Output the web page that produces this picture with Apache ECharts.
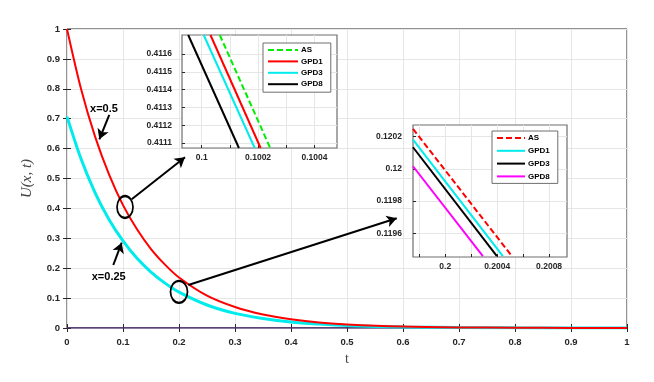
<!DOCTYPE html>
<html>
<head>
<meta charset="utf-8">
<script src="https://cdn.jsdelivr.net/npm/echarts@6/dist/echarts.min.js"></script>
<style>
  html, body { margin: 0; padding: 0; background: #fff; }
  #chart { width: 654px; height: 382px; }
</style>
</head>
<body>
<div id="chart"></div>
<script>
// main curves
const tValues = [0, 0.025, 0.05, 0.075, 0.1, 0.125, 0.15, 0.175, 0.2, 0.25, 0.3, 0.35, 0.4, 0.45, 0.5, 0.6, 0.7, 0.8, 0.9, 1.0];
const uHalf = [1.0, 0.80, 0.641, 0.514, 0.411, 0.330, 0.264, 0.212, 0.169, 0.108, 0.070, 0.045, 0.029, 0.018, 0.012, 0.005, 0.002, 0.001, 0.0004, 0.0002];
const uQuarter = [0.707, 0.566, 0.453, 0.363, 0.291, 0.233, 0.187, 0.150, 0.120, 0.077, 0.049, 0.032, 0.020, 0.013, 0.008, 0.0035, 0.0014, 0.0006, 0.0003, 0.0001];
const uZero = tValues.map(() => 0);

// zoom near t=0.1 (x=0.5)
const zoom1AS = [[0.100064, 0.411707], [0.100243, 0.411072]];
const zoom1GPD1 = [[0.100031, 0.411707], [0.100209, 0.411072]];
const zoom1GPD3 = [[0.100007, 0.411707], [0.100188, 0.411072]];
const zoom1GPD8 = [[0.099952, 0.411707], [0.100132, 0.411072]];

// zoom near t=0.2 (x=0.25)
const zoom2AS = [[0.199752, 0.120248], [0.200513, 0.119459]];
const zoom2GPD1 = [[0.199752, 0.120181], [0.200444, 0.119459]];
const zoom2GPD3 = [[0.199752, 0.120134], [0.200398, 0.119459]];
const zoom2GPD8 = [[0.199752, 0.120016], [0.200290, 0.119459]];

const zoom1XTicks = [0.1, 0.1001, 0.1002, 0.1003, 0.1004];
const zoom1XLabels = [0.1, 0.1002, 0.1004];
const zoom1YTicks = [0.4111, 0.4112, 0.4113, 0.4114, 0.4115, 0.4116];
const zoom2XTicks = [0.1998, 0.2, 0.2002, 0.2004, 0.2006, 0.2008];
const zoom2XLabels = [0.2, 0.2004, 0.2008];
const zoom2YTicks = [0.1196, 0.1198, 0.12, 0.1202];

const RED = '#ff0000', CYAN = '#00ecec', BLACK = '#000000', GREEN = '#00ee00', MAGENTA = '#ff00ff';
const AXIS = '#262626', GRID = '#e6e6e6';
const FONT = '"Liberation Sans", Arial, sans-serif';

const chart = echarts.init(document.getElementById('chart'));

const fmt = (v) => String(+(+v).toFixed(5));
const tickLabel = (size) => ({ fontFamily: FONT, fontWeight: 'bold', fontSize: size, color: AXIS });

function insetX(grid, min, max, ticks, labels) {
  return {
    type: 'value', gridIndex: grid, min, max, z: 6,
    axisLine: { show: false },
    axisTick: { show: true, inside: true, length: 3, customValues: ticks, lineStyle: { color: AXIS } },
    axisLabel: Object.assign({ customValues: labels, margin: 5, formatter: fmt }, tickLabel(8.5)),
    splitLine: { show: true, lineStyle: { color: GRID, width: 1 } },
  };
}
function insetY(grid, min, max, ticks, margin) {
  return {
    type: 'value', gridIndex: grid, min, max, z: 6,
    axisLine: { show: false },
    axisTick: { show: true, inside: true, length: 3, customValues: ticks, lineStyle: { color: AXIS } },
    axisLabel: Object.assign({ customValues: ticks, margin, formatter: fmt }, tickLabel(8.5)),
    splitLine: { show: true, lineStyle: { color: GRID, width: 1 } },
  };
}
function pairLine(name, data, xi, color, dashed) {
  return {
    name, type: 'line', data, xAxisIndex: xi, yAxisIndex: xi, z: 7,
    symbol: 'none', silent: true, animation: false, clip: true,
    lineStyle: { color, width: 2, type: dashed ? [6, 3] : 'solid' },
    itemStyle: { color },
  };
}

const ellipse = 'path://M0,-1A1,1 0 1,1 0,1A1,1 0 1,1 0,-1Z';
const arrowStyle = { color: '#000', width: 2, type: 'solid' };
const legendBase = {
  orient: 'vertical', z: 8, itemHeight: 8, selectedMode: false,
  backgroundColor: '#fff', borderColor: '#6e6e6e', borderWidth: 1,
  itemStyle: { opacity: 0 },
  textStyle: { fontFamily: FONT, fontWeight: 'bold', fontSize: 8, color: '#000', padding: [0, 0, 0, -2] },
};

chart.setOption({
  animation: false,
  backgroundColor: '#fff',
  grid: [
    { left: 67, top: 29, width: 560, height: 299, show: true, borderColor: AXIS, borderWidth: 1, backgroundColor: 'transparent', z: 0 },
    { left: 182, top: 35, width: 155, height: 113, show: true, borderColor: '#6e6e6e', borderWidth: 1.2, backgroundColor: '#fff', z: 5 },
    { left: 413, top: 125, width: 154, height: 132, show: true, borderColor: '#6e6e6e', borderWidth: 1.2, backgroundColor: '#fff', z: 5 },
  ],
  xAxis: [
    {
      type: 'value', gridIndex: 0, min: 0, max: 1, interval: 0.1,
      name: 't', nameLocation: 'middle', nameGap: 24,
      nameTextStyle: { fontFamily: '"Liberation Serif", serif', fontSize: 14, color: '#444' },
      axisLine: { show: false },
      axisTick: { inside: true, length: 4, lineStyle: { color: AXIS } },
      axisLabel: Object.assign({ margin: 9, formatter: fmt }, tickLabel(9.5)),
      splitLine: { show: true, lineStyle: { color: GRID } },
    },
    insetX(1, 0.09993, 0.10048, zoom1XTicks, zoom1XLabels),
    insetX(2, 0.199752, 0.200938, zoom2XTicks, zoom2XLabels),
    {
      type: 'value', gridIndex: 0, min: 0, max: 1, interval: 0.1, position: 'top',
      axisLine: { show: false }, axisLabel: { show: false }, splitLine: { show: false },
      axisTick: { inside: true, length: 4, lineStyle: { color: AXIS } },
    },
  ],
  yAxis: [
    {
      type: 'value', gridIndex: 0, min: 0, max: 1, interval: 0.1,
      name: 'U(x, t)', nameLocation: 'middle', nameGap: 32,
      nameTextStyle: { fontFamily: '"Liberation Serif", serif', fontStyle: 'italic', fontSize: 15, color: '#444' },
      axisLine: { show: false },
      axisTick: { inside: true, length: 4, lineStyle: { color: AXIS } },
      axisLabel: Object.assign({ margin: 7, formatter: fmt }, tickLabel(9.5)),
      splitLine: { show: true, lineStyle: { color: GRID } },
    },
    insetY(1, 0.411072, 0.411707, zoom1YTicks, 10),
    insetY(2, 0.119453, 0.120272, zoom2YTicks, 11),
    {
      type: 'value', gridIndex: 0, min: 0, max: 1, interval: 0.1, position: 'right',
      axisLine: { show: false }, axisLabel: { show: false }, splitLine: { show: false },
      axisTick: { inside: true, length: 4, lineStyle: { color: AXIS } },
    },
  ],
  legend: [
    Object.assign({}, legendBase, {
      left: 263, top: 43,
      data: ['AS', 'GPD1', 'GPD3', 'GPD8'],
      itemWidth: 30, itemGap: 3.4, padding: [3, 8, 4, 4],
    }),
    Object.assign({}, legendBase, {
      left: 492, top: 131,
      data: ['AS|2', 'GPD1|2', 'GPD3|2', 'GPD8|2'],
      formatter: (n) => n.split('|')[0],
      itemWidth: 28, itemGap: 4.8, padding: [3, 8, 3, 4],
    }),
  ],
  series: [
    {
      name: 'zero', type: 'line', xAxisIndex: 0, yAxisIndex: 0, z: 2,
      data: tValues.map((t, i) => [t, uZero[i]]), symbol: 'none', silent: true,
      lineStyle: { color: '#4b2a6e', width: 1.5 },
    },
    {
      name: 'x=0.25', type: 'line', xAxisIndex: 0, yAxisIndex: 0, z: 2,
      data: tValues.map((t, i) => [t, uQuarter[i]]), symbol: 'none', smooth: 0.3, silent: true,
      lineStyle: { color: CYAN, width: 3 },
    },
    {
      name: 'x=0.5', type: 'line', xAxisIndex: 0, yAxisIndex: 0, z: 3,
      data: tValues.map((t, i) => [t, uHalf[i]]), symbol: 'none', smooth: 0.3, silent: true,
      lineStyle: { color: RED, width: 2 },
      markPoint: {
        silent: true, animation: false,
        data: [
          { coord: [0.1036, 0.4047], symbol: ellipse, symbolSize: [16, 22], itemStyle: { color: 'transparent', borderColor: '#000', borderWidth: 2 }, label: { show: false } },
          { coord: [0.2, 0.121], symbol: ellipse, symbolSize: [17, 22], itemStyle: { color: 'transparent', borderColor: '#000', borderWidth: 2 }, label: { show: false } },
          { coord: [0.066, 0.7324], symbol: 'rect', symbolSize: 1, itemStyle: { color: 'transparent' },
            label: { show: true, position: 'inside', formatter: 'x=0.5', fontFamily: FONT, fontWeight: 'bold', fontSize: 11, color: '#000' } },
          { coord: [0.0745, 0.1716], symbol: 'rect', symbolSize: 1, itemStyle: { color: 'transparent' },
            label: { show: true, position: 'inside', formatter: 'x=0.25', fontFamily: FONT, fontWeight: 'bold', fontSize: 11, color: '#000' } },
        ],
      },
      markLine: {
        silent: true, animation: false,
        symbol: ['none', 'arrow'], symbolSize: [9, 10],
        label: { show: false }, lineStyle: arrowStyle,
        data: [
          [{ coord: [0.1155, 0.4304] }, { coord: [0.2107, 0.5709] }],
          [{ coord: [0.2166, 0.1438] }, { coord: [0.5888, 0.3669] }],
          [{ coord: [0.0755, 0.7124] }, { coord: [0.0577, 0.6311] }],
          [{ coord: [0.0827, 0.2107] }, { coord: [0.0977, 0.2853] }],
        ],
      },
    },
    pairLine('AS', zoom1AS, 1, GREEN, true),
    pairLine('GPD1', zoom1GPD1, 1, RED),
    pairLine('GPD3', zoom1GPD3, 1, CYAN),
    pairLine('GPD8', zoom1GPD8, 1, BLACK),
    pairLine('AS|2', zoom2AS, 2, RED, true),
    pairLine('GPD1|2', zoom2GPD1, 2, CYAN),
    pairLine('GPD3|2', zoom2GPD3, 2, BLACK),
    pairLine('GPD8|2', zoom2GPD8, 2, MAGENTA),
  ],
});
</script>
</body>
</html>
